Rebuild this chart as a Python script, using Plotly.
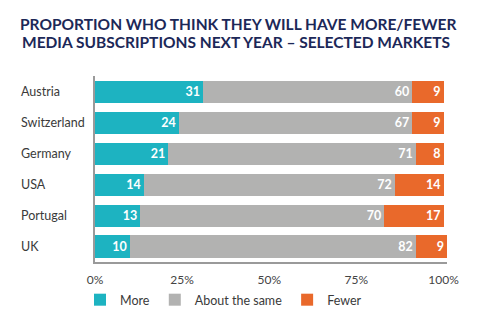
import plotly.graph_objects as go

countries = ["Austria", "Switzerland", "Germany", "USA", "Portugal", "UK"]
more = [31, 24, 21, 14, 13, 10]
same = [60, 67, 71, 72, 70, 82]
fewer = [9, 9, 8, 14, 17, 9]
series_names = ["More", "About the same", "Fewer"]
colors = ["#1db3c1", "#b2b2b1", "#e9692b"]
x_ticks = [0, 25, 50, 75, 100]
x_ticklabels = ["0%", "25%", "50%", "75%", "100%"]
title_lines = ["PROPORTION WHO THINK THEY WILL HAVE MORE/FEWER",
               "MEDIA SUBSCRIPTIONS NEXT YEAR – SELECTED MARKETS"]

W, H = 479, 323
ML, MR, MT, MB = 95, 31.5, 76, 61
PW, PH = W - ML - MR, H - MT - MB

FONT = "Lato"
TITLE_FONT = dict(size=15.5, color="#1c2858", family=FONT, weight=700)
fig = go.Figure()
for name, vals, col in zip(series_names, [more, same, fewer], colors):
    fig.add_trace(go.Bar(
        y=countries, x=vals, name=name, orientation="h",
        marker=dict(color=col, line=dict(width=0)),
        text=[str(v) for v in vals], textposition="inside",
        insidetextanchor="end", textangle=0,
        textfont=dict(color="white", size=12.5, family=FONT, weight=700),
        cliponaxis=False,
    ))

for c in countries:
    fig.add_annotation(x=0, xref="paper", xshift=-76, y=c, yref="y",
                       text=c, showarrow=False, xanchor="left",
                       font=dict(size=12.5, color="#3a3a3a", family=FONT))

fig.add_annotation(x=(20 - ML) / PW, xref="paper", xanchor="left",
                   y=(H - MB - 42.5) / PH, yref="paper", yanchor="middle",
                   text=title_lines[1], showarrow=False, font=TITLE_FONT)

fig.update_layout(
    width=W, height=H,
    barmode="stack", bargap=0.29,
    margin=dict(l=ML, r=MR, t=MT, b=MB, autoexpand=False),
    paper_bgcolor="white", plot_bgcolor="white",
    title=dict(text=title_lines[0],
               x=20 / W, xanchor="left", y=1 - 25 / H, yanchor="middle",
               font=TITLE_FONT),
    showlegend=True,
    legend=dict(orientation="h", xref="container", x=80 / W, xanchor="left",
                yref="container", y=0.071, yanchor="middle",
                bgcolor="rgba(0,0,0,0)",
                font=dict(size=12.5, color="#3a3a3a", family=FONT),
                itemwidth=30, traceorder="normal"),
    uniformtext=dict(minsize=8, mode="show"),
)
fig.update_xaxes(range=[0, 101], tickvals=x_ticks, ticktext=x_ticklabels,
                 showgrid=False, zeroline=False, showline=True,
                 linecolor="#9a9a9a", linewidth=1.5,
                 tickfont=dict(size=12, color="#444", family=FONT),
                 ticks="", ticklabelstandoff=6, automargin=False)
fig.update_yaxes(autorange="reversed", showticklabels=False, showgrid=False,
                 zeroline=False, showline=True, linecolor="#9a9a9a", linewidth=1.5,
                 ticks="", automargin=False)

fig.write_html("out.html")
